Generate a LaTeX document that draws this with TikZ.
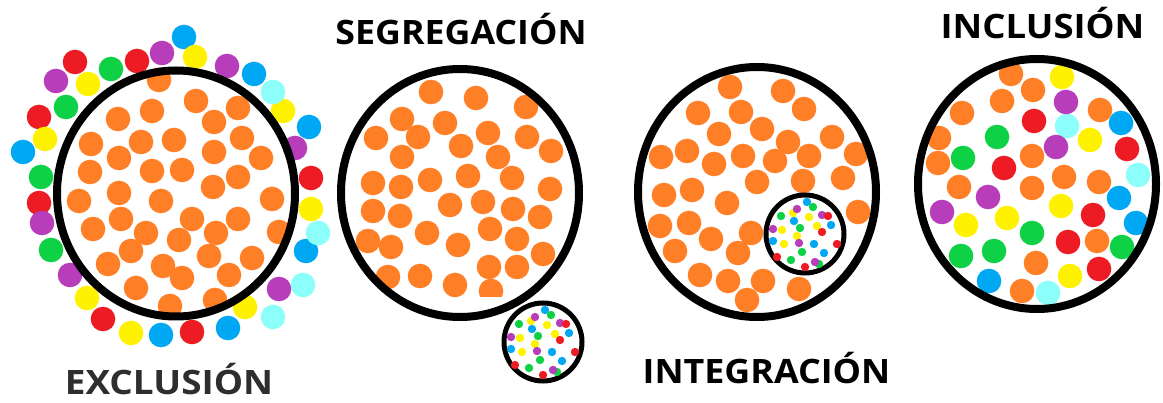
\documentclass[tikz,border=0pt]{standalone}
\usepackage{fontspec}
\setmainfont{Open Sans}
\usetikzlibrary{calc}
\definecolor{cor}{HTML}{FF7F27}
\definecolor{cre}{HTML}{ED1C24}
\definecolor{cye}{HTML}{FFF200}
\definecolor{cgr}{HTML}{0ED145}
\definecolor{cbl}{HTML}{00A8F3}
\definecolor{cpu}{HTML}{B83DBA}
\definecolor{ccy}{HTML}{8CFFFB}
\definecolor{labgray}{HTML}{2E2E2E}
\newcommand\pdot[3]{\fill[#1] (#2,#3) circle (12.3pt);}
\newcommand\mdot[3]{\fill[#1] (#2,#3) circle (4.2pt);}
\newcommand\minipattern{%
\mdot{cbl}{2}{-32}\mdot{cgr}{8}{-27}\mdot{cye}{-12}{-21}\mdot{cpu}{-8}{-25}
\mdot{cgr}{-24}{-18}\mdot{cbl}{-11}{-13}\mdot{cye}{4}{-17}\mdot{cpu}{17}{-19}
\mdot{cre}{23}{-18}\mdot{cgr}{-5}{-6}\mdot{cye}{12}{-8}\mdot{cbl}{26}{-9}
\mdot{cre}{17}{-2}\mdot{cpu}{-32}{-5}\mdot{cye}{-23}{-4}\mdot{cye}{-8}{2}
\mdot{cbl}{-32}{7}\mdot{cye}{-21}{10}\mdot{cpu}{-6}{9}\mdot{cbl}{9}{10}
\mdot{cre}{32}{10}\mdot{cgr}{-3}{18}\mdot{cbl}{19}{19}\mdot{cre}{-28}{23}
\mdot{cgr}{-14}{26}\mdot{cgr}{14}{30}\mdot{cpu}{10}{28}\mdot{cre}{0}{33}}
\tikzset{
  ring/.style={draw=black,line width=8pt},
  minring/.style={draw=black,line width=5pt,fill=white},
  lab/.style={font=\bfseries\fontsize{33.6}{36}\selectfont,text=black,inner sep=0pt,anchor=base}
}
\begin{document}
\begin{tikzpicture}[x=1pt,y=-1pt]
\fill[white] (0,0) rectangle (1163,403);
\useasboundingbox (0,0) rectangle (1163,403);
% ---------------- EXCLUSION ----------------
\pdot{cbl}{184}{37}\pdot{cye}{195}{57}\pdot{cpu}{162}{53}\pdot{cre}{137}{61}
\pdot{cgr}{111}{69}\pdot{cre}{75}{62}\pdot{cpu}{56}{81}\pdot{cye}{88}{84}
\pdot{cgr}{66}{107}\pdot{cre}{39}{117}\pdot{cye}{45}{139}\pdot{cbl}{23}{152}
\pdot{cgr}{41}{177}\pdot{cre}{39}{203}\pdot{cpu}{42}{223}\pdot{cgr}{51}{250}
\pdot{cpu}{70}{275}\pdot{cye}{87}{298}\pdot{cre}{103}{319}\pdot{cye}{131}{333}
\pdot{cbl}{161}{335}\pdot{cre}{192}{332}\pdot{cbl}{228}{328}\pdot{cye}{245}{307}
\pdot{ccy}{273}{317}\pdot{cpu}{279}{289}\pdot{ccy}{303}{285}\pdot{cbl}{306}{251}
\pdot{ccy}{318}{233}\pdot{cye}{311}{209}\pdot{cre}{311}{178}\pdot{cpu}{295}{148}
\pdot{cbl}{309}{127}\pdot{cye}{283}{111}\pdot{ccy}{273}{92}\pdot{cbl}{254}{74}
\pdot{cpu}{227}{66}
\pdot{cor}{159}{80}\pdot{cor}{196}{101}\pdot{cor}{152}{111}\pdot{cor}{238}{108}
\pdot{cor}{118}{119}\pdot{cor}{214}{122}\pdot{cor}{91}{144}\pdot{cor}{141}{142}
\pdot{cor}{174}{140}\pdot{cor}{242}{138}\pdot{cor}{214}{152}\pdot{cor}{119}{158}
\pdot{cor}{90}{172}\pdot{cor}{152}{171}\pdot{cor}{182}{170}\pdot{cor}{261}{158}
\pdot{cor}{238}{177}\pdot{cor}{213}{187}\pdot{cor}{79}{201}\pdot{cor}{119}{193}
\pdot{cor}{161}{201}\pdot{cor}{272}{199}\pdot{cor}{93}{229}\pdot{cor}{121}{219}
\pdot{cor}{192}{219}\pdot{cor}{238}{219}\pdot{cor}{146}{233}\pdot{cor}{216}{233}
\pdot{cor}{279}{232}\pdot{cor}{179}{240}\pdot{cor}{131}{251}\pdot{cor}{209}{256}
\pdot{cor}{252}{258}\pdot{cor}{108}{264}\pdot{cor}{163}{266}\pdot{cor}{182}{278}
\pdot{cor}{229}{275}\pdot{cor}{136}{288}\pdot{cor}{170}{306}\pdot{cor}{215}{300}
\draw[ring] (176,193.5) ellipse [x radius=119pt, y radius=123pt];
\node[lab,text=labgray] (exc) at (169,395) {\scalebox{1.098}[1]{EXCLUSIÓN}};
% ---------------- SEGREGACION ----------------
\pdot{cor}{431}{92}\pdot{cor}{476}{98}\pdot{cor}{526}{107}\pdot{cor}{402}{119}
\pdot{cor}{445}{123}\pdot{cor}{488}{133}\pdot{cor}{527}{137}\pdot{cor}{376}{138}
\pdot{cor}{418}{137}\pdot{cor}{461}{146}\pdot{cor}{551}{151}\pdot{cor}{498}{157}
\pdot{cor}{402}{157}\pdot{cor}{512}{178}\pdot{cor}{468}{176}\pdot{cor}{430}{180}
\pdot{cor}{373}{183}\pdot{cor}{401}{187}\pdot{cor}{550}{189}\pdot{cor}{450}{205}
\pdot{cor}{483}{202}\pdot{cor}{513}{209}\pdot{cor}{540}{217}\pdot{cor}{373}{211}
\pdot{cor}{400}{216}\pdot{cor}{427}{233}\pdot{cor}{490}{229}\pdot{cor}{458}{245}
\pdot{cor}{517}{239}\pdot{cor}{368}{241}\pdot{cor}{391}{247}\pdot{cor}{543}{254}
\pdot{cor}{489}{267}\pdot{cor}{517}{267}\pdot{cor}{388}{277}\pdot{cor}{420}{276}
\pdot{cor}{455}{285}
\begin{scope}
\clip (470,270) rectangle (520,297);
\pdot{cor}{491}{291}
\end{scope}
\draw[ring] (460,193) ellipse [x radius=119pt, y radius=124pt];
\draw[minring] (543,342) circle (39pt);
\begin{scope}[shift={(543,342)}]\minipattern\end{scope}
\node[lab] (seg) at (461,45) {\scalebox{1.064}[1]{SEGREGACIÓN}};
% ---------------- INTEGRACION ----------------
\pdot{cor}{730}{87}\pdot{cor}{783}{91}\pdot{cor}{804}{109}\pdot{cor}{698}{113}
\pdot{cor}{741}{112}\pdot{cor}{762}{129}\pdot{cor}{719}{134}\pdot{cor}{788}{142}
\pdot{cor}{832}{137}\pdot{cor}{661}{157}\pdot{cor}{687}{151}\pdot{cor}{714}{164}
\pdot{cor}{743}{156}\pdot{cor}{775}{161}\pdot{cor}{809}{156}\pdot{cor}{856}{154}
\pdot{cor}{843}{178}\pdot{cor}{803}{181}\pdot{cor}{757}{182}\pdot{cor}{664}{195}
\pdot{cor}{692}{190}\pdot{cor}{727}{203}\pdot{cor}{858}{212}\pdot{cor}{660}{226}
\pdot{cor}{689}{223}\pdot{cor}{751}{233}\pdot{cor}{711}{239}\pdot{cor}{675}{251}
\pdot{cor}{738}{253}\pdot{cor}{700}{275}\pdot{cor}{728}{281}\pdot{cor}{763}{281}
\pdot{cor}{799}{289}\pdot{cor}{747}{300}
\draw[ring] (757,192) ellipse [x radius=119pt, y radius=125pt];
\draw[minring] (805,234) circle (39pt);
\begin{scope}[shift={(805,234)}]\minipattern\end{scope}
\node[lab] (int) at (766.5,384) {\scalebox{1.066}[1]{INTEGRACIÓN}};
% ---------------- INCLUSION ----------------
\pdot{cor}{1011}{74}\pdot{cye}{1062}{77}\pdot{cor}{1033}{90}\pdot{cor}{1002}{101}
\pdot{ccy}{1067}{126}\pdot{cpu}{1066}{102}\pdot{cor}{962}{113}\pdot{cor}{1100}{110}
\pdot{cre}{1034}{121}\pdot{cbl}{1121}{123}
\pdot{cor}{939}{138}\pdot{cgr}{997}{137}\pdot{cye}{1090}{140}\pdot{cpu}{1056}{147}
\pdot{cre}{1127}{149}\pdot{cor}{938}{163}\pdot{cgr}{963}{158}\pdot{cre}{1004}{168}
\pdot{cor}{1032}{156}\pdot{ccy}{1138}{175}\pdot{cor}{959}{187}\pdot{cpu}{988}{197}
\pdot{cor}{1032}{188}\pdot{cor}{1064}{177}\pdot{cor}{1099}{182}\pdot{cbl}{1119}{198}
\pdot{cpu}{942}{212}\pdot{cye}{966}{225}\pdot{cye}{1007}{218}\pdot{cye}{1061}{206}
\pdot{cre}{1093}{215}\pdot{cbl}{1136}{223}\pdot{cgr}{1032}{233}\pdot{cre}{1068}{242}
\pdot{cor}{1097}{241}\pdot{cgr}{1122}{247}\pdot{cgr}{961}{256}\pdot{cgr}{994}{251}
\pdot{cor}{1036}{263}\pdot{cye}{1070}{276}\pdot{cre}{1099}{269}\pdot{cbl}{989}{281}
\pdot{cor}{1022}{291}\pdot{ccy}{1048}{293}
\draw[ring] (1037,184) ellipse [x radius=119pt, y radius=125pt];
\node[lab] (inc) at (1042.5,39) {\scalebox{1.086}[1]{INCLUSIÓN}};
\end{tikzpicture}
\end{document}
